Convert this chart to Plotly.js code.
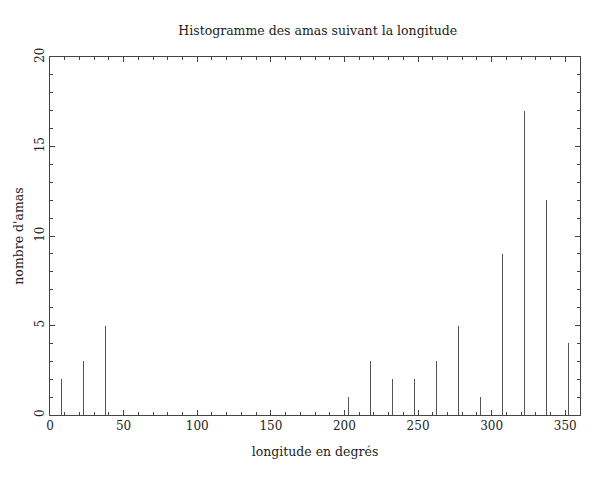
<!DOCTYPE html>
<html>
<head>
<meta charset="utf-8">
<script src="https://cdn.plot.ly/plotly-3.0.1.min.js"></script>
<style>html,body{margin:0;padding:0;background:#fff;}#chart{width:611px;height:480px;}</style>
</head>
<body>
<div id="chart"></div>
<script>
// Bin centres (15-degree bins) and counts
const longitudes = [7.5, 22.5, 37.5, 52.5, 67.5, 82.5, 97.5, 112.5, 127.5, 142.5, 157.5, 172.5,
                    187.5, 202.5, 217.5, 232.5, 247.5, 262.5, 277.5, 292.5, 307.5, 322.5, 337.5, 352.5];
const counts =     [2, 3, 5, 0, 0, 0, 0, 0, 0, 0, 0, 0,
                    0, 1, 3, 2, 2, 3, 5, 1, 9, 17, 12, 4];
const xTicks = [0, 50, 100, 150, 200, 250, 300, 350];
const yTicks = [0, 5, 10, 15, 20];

const fontSerif = "'DejaVu Serif', 'Liberation Serif', serif";

const trace = {
  type: 'bar',
  x: longitudes,
  y: counts,
  width: 0.65,
  marker: {color: '#555', line: {width: 0}},
  hoverinfo: 'x+y'
};

const axisCommon = {
  showgrid: false,
  zeroline: false,
  showline: true,
  linecolor: '#444',
  linewidth: 1,
  mirror: 'allticks',
  ticks: 'inside',
  ticklen: 5,
  tickcolor: '#444',
  tickfont: {family: fontSerif, size: 12, color: '#222'}
};

const layout = {
  width: 611, height: 480,
  margin: {l: 49.5, r: 31, t: 56.5, b: 65},
  paper_bgcolor: '#fff', plot_bgcolor: '#fff',
  showlegend: false,
  bargap: 0,
  title: {text: 'Histogramme des amas suivant la longitude', x: 0.52, xanchor: 'center', y: 0.937, yanchor: 'middle',
          font: {family: fontSerif, size: 12.5, color: '#222'}},
  xaxis: Object.assign({}, axisCommon, {
    range: [0, 360], tickvals: xTicks, ticktext: xTicks.map(String),
    minor: {dtick: 10, tick0: 0, ticks: 'inside', ticklen: 3, tickcolor: '#444'},
    title: {text: 'longitude en degrés', font: {family: fontSerif, size: 12.5, color: '#222'}, standoff: 14}
  }),
  yaxis: Object.assign({}, axisCommon, {
    range: [0, 20], tickvals: yTicks, ticktext: yTicks.map(String), tickangle: -90,
    minor: {dtick: 1, tick0: 0, ticks: 'inside', ticklen: 3, tickcolor: '#444'},
    title: {text: "nombre d'amas", font: {family: fontSerif, size: 12.5, color: '#222'}, standoff: 6}
  })
};

Plotly.newPlot('chart', [trace], layout, {staticPlot: true, displayModeBar: false});
</script>
</body>
</html>
